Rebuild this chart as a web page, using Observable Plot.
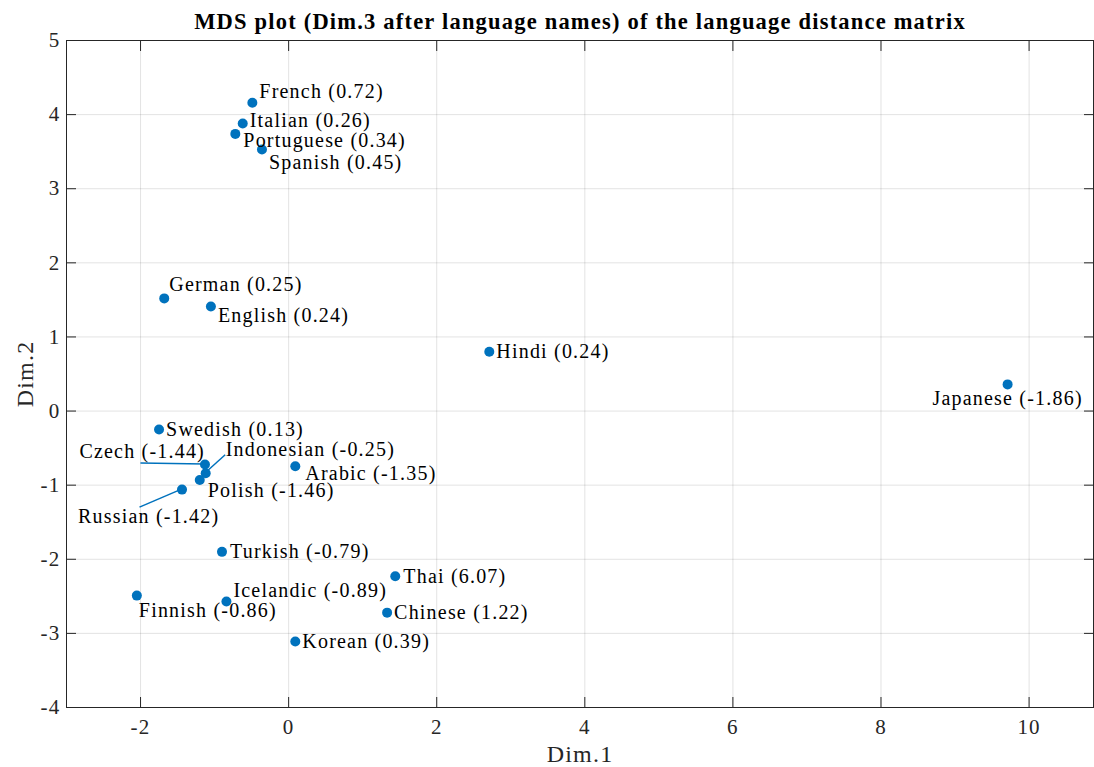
<!DOCTYPE html>
<html><head><meta charset="utf-8">
<script src="https://cdn.jsdelivr.net/npm/d3@7"></script>
<script src="https://cdn.jsdelivr.net/npm/@observablehq/plot@0.6"></script>
<style>body{margin:0;background:#fff;} svg{display:block}</style>
</head><body><div id="chart"></div>
<script>
// ---- data ----
const languages = ["French","Italian","Portuguese","Spanish","German","English","Swedish","Czech","Indonesian","Polish","Russian","Arabic","Turkish","Finnish","Icelandic","Thai","Chinese","Korean","Hindi","Japanese"];
const dim1 = [-0.49,-0.62,-0.72,-0.36,-1.68,-1.05,-1.75,-1.13,-1.12,-1.20,-1.44,0.09,-0.90,-2.05,-0.84,1.44,1.33,0.09,2.71,9.71];
const dim2 = [4.16,3.88,3.74,3.53,1.52,1.41,-0.25,-0.72,-0.84,-0.93,-1.06,-0.745,-1.90,-2.49,-2.57,-2.23,-2.72,-3.11,0.80,0.36];
const dim3 = [0.72,0.26,0.34,0.45,0.25,0.24,0.13,-1.44,-0.25,-1.46,-1.42,-1.35,-0.79,-0.86,-0.89,6.07,1.22,0.39,0.24,-1.86];
const xTicks = [-2,0,2,4,6,8,10];
const yTicks = [-4,-3,-2,-1,0,1,2,3,4,5];
const titleText = "MDS plot (Dim.3 after language names) of the language distance matrix";
const xLabel = "Dim.1";
const yLabel = "Dim.2";

const data = languages.map((name, i) => ({name, d1: dim1[i], d2: dim2[i], d3: dim3[i]}));

// ---- label layout (pixel offsets from each dot) ----
const labelLayout = {
  French: [7,-11,"start"], Italian: [7,-3,"start"], Portuguese: [8,7,"start"], Spanish: [7,13,"start"],
  German: [5,-14,"start"], English: [7,9,"start"], Swedish: [7,0,"start"], Czech: [0,-13,"end"],
  Indonesian: [20,-24,"start"], Polish: [8,11,"start"], Russian: [-104,27,"start"], Arabic: [10,7,"start"],
  Turkish: [8,0,"start"], Finnish: [2,15,"start"], Icelandic: [7,-11,"start"], Thai: [8,0,"start"],
  Chinese: [7,0,"start"], Korean: [7,0,"start"], Hindi: [7,0,"start"], Japanese: [0,14,"middle"]
};
const leaderLayout = { Czech: [-64,-1], Indonesian: [20,-18], Russian: [-42,18] };

const FONT = "'Liberation Serif', 'DejaVu Serif', serif";
const BLUE = "#0072BD";
const INK = "#262626";
const fmt = d => String(d);

const labelMarks = data.map(d => {
  const [dx, dy, anchor] = labelLayout[d.name];
  return Plot.text([d], {x: "d1", y: "d2", text: d => `${d.name} (${d.d3.toFixed(2)})`,
    dx, dy, textAnchor: anchor, lineAnchor: "middle", fontSize: 20, fill: "#000", fontFamily: FONT});
});

const leaderMark = (index, scales) => {
  const g = d3.create("svg:g").attr("stroke", BLUE).attr("stroke-width", 1.5);
  for (const d of data) {
    const L = leaderLayout[d.name];
    if (!L) continue;
    const px = scales.x(d.d1), py = scales.y(d.d2);
    g.append("line").attr("x1", px).attr("y1", py).attr("x2", px + L[0]).attr("y2", py + L[1]);
  }
  return g.node();
};

const chart = Plot.plot({
  width: 1094, height: 767,
  marginLeft: 66, marginRight: 1, marginTop: 40, marginBottom: 60,
  style: {fontFamily: FONT, fontSize: "21px", color: INK, background: "#fff", letterSpacing: "1.2px"},
  x: {domain: [-3, 10.87], ticks: xTicks},
  y: {domain: [-4, 5], ticks: yTicks},
  marks: [
    Plot.gridX(xTicks, {stroke: INK, strokeOpacity: 0.13}),
    Plot.gridY(yTicks, {stroke: INK, strokeOpacity: 0.13}),
    Plot.axisX(xTicks, {anchor: "bottom", tickSize: -10, tickPadding: 22, fontSize: 21, label: null, stroke: INK, tickFormat: fmt}),
    Plot.axisX(xTicks, {anchor: "top", tickSize: -10, tickFormat: () => "", label: null, stroke: INK}),
    Plot.axisY(yTicks, {anchor: "left", tickSize: -10, tickPadding: 16, fontSize: 21, label: null, stroke: INK, tickFormat: fmt}),
    Plot.axisY(yTicks, {anchor: "right", tickSize: -10, tickFormat: () => "", label: null, stroke: INK}),
    Plot.frame({stroke: INK, strokeWidth: 1}),
    Plot.text([titleText], {frameAnchor: "top", dy: -19, lineAnchor: "middle", text: d => d, fontWeight: "bold", fontSize: 22.5, fill: "#000", fontFamily: FONT}),
    Plot.text([xLabel], {frameAnchor: "bottom", dy: 47, lineAnchor: "middle", text: d => d, fontSize: 24, fill: INK, fontFamily: FONT}),
    Plot.text([yLabel], {frameAnchor: "left", dx: -41, rotate: -90, textAnchor: "middle", lineAnchor: "middle", text: d => d, fontSize: 24, fill: INK, fontFamily: FONT}),
    leaderMark,
    Plot.dot(data, {x: "d1", y: "d2", r: 5, fill: BLUE, stroke: "none"}),
    ...labelMarks
  ]
});
document.getElementById("chart").appendChild(chart);
</script>
</body></html>
